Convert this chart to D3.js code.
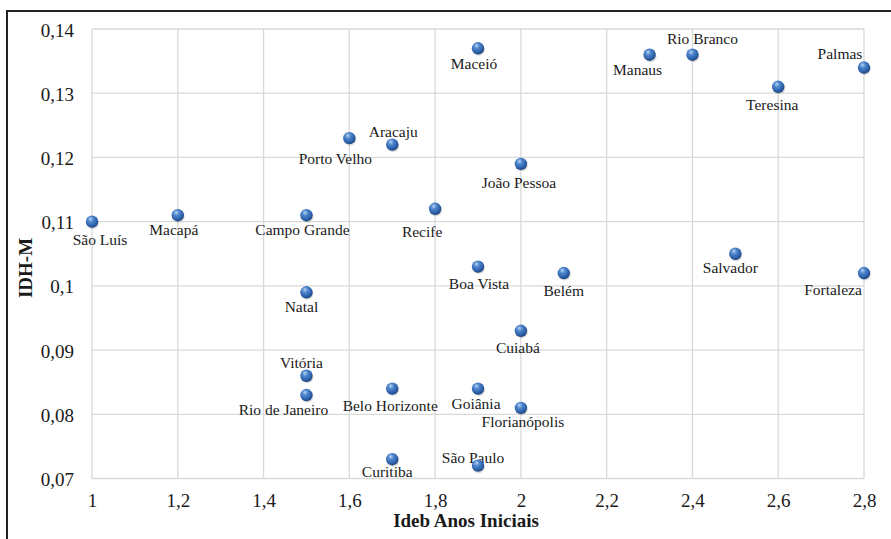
<!DOCTYPE html>
<html>
<head>
<meta charset="utf-8">
<script src="https://cdn.jsdelivr.net/npm/d3@7"></script>
<style>
  html, body { margin: 0; padding: 0; background: #fff; }
  svg { display: block; }
  text { font-family: "Liberation Serif", "Times New Roman", serif; fill: #1a1a1a; }
</style>
</head>
<body>
<svg id="chart" width="891" height="539" font-family="Liberation Serif"></svg>
<script>
// ---- Data ----
const cities = ["São Luís","Macapá","Campo Grande","Natal","Vitória","Rio de Janeiro","Belo Horizonte","Curitiba","São Paulo","Goiânia","Florianópolis","Cuiabá","Boa Vista","Belém","Recife","Porto Velho","Aracaju","Maceió","João Pessoa","Manaus","Rio Branco","Teresina","Palmas","Salvador","Fortaleza"];
const ideb = [1.0,1.2,1.5,1.5,1.5,1.5,1.7,1.7,1.9,1.9,2.0,2.0,1.9,2.1,1.8,1.6,1.7,1.9,2.0,2.3,2.4,2.6,2.8,2.5,2.8];
const idhm = [0.110,0.111,0.111,0.099,0.086,0.083,0.084,0.073,0.072,0.084,0.081,0.093,0.103,0.102,0.112,0.123,0.122,0.137,0.119,0.136,0.136,0.131,0.134,0.105,0.102];
const xTicks = [1,1.2,1.4,1.6,1.8,2,2.2,2.4,2.6,2.8];
const yTicks = [0.07,0.08,0.09,0.10,0.11,0.12,0.13,0.14];
const xTitle = "Ideb Anos Iniciais";
const yTitle = "IDH-M";

// ---- Label placement (style: offset of label centre/baseline from its point) ----
const labelOffset = {
  "São Luís":[8,23], "Macapá":[-4,20], "Campo Grande":[-4,20], "Natal":[-5,20],
  "Vitória":[-5,-8], "Rio de Janeiro":[-23,20], "Belo Horizonte":[-2,22], "Curitiba":[-5,18],
  "São Paulo":[-5,-3], "Goiânia":[-2,20], "Florianópolis":[2,19], "Cuiabá":[-3,22],
  "Boa Vista":[1,22], "Belém":[0,23], "Recife":[-13,28], "Porto Velho":[-14,26],
  "Aracaju":[1,-8], "Maceió":[-4,21], "João Pessoa":[-2,24], "Manaus":[-12,20],
  "Rio Branco":[10,-11], "Teresina":[-6,23], "Palmas":[-24,-9], "Salvador":[-5,19],
  "Fortaleza":[-31,22]
};

const svg = d3.select("#chart");
const W = 891, H = 539;
const mLeft = 92, mRight = 864, mTop = 29, mBottom = 478.5;
const FONT = "Liberation Serif";

const x = d3.scaleLinear().domain([1, 2.8]).range([mLeft, mRight]);
const y = d3.scaleLinear().domain([0.07, 0.14]).range([mBottom, mTop]);

// frame (top and left edges)
svg.append("path")
  .attr("d", `M7,${H} L7,11 L${W},11`)
  .attr("fill", "none").attr("stroke", "#222").attr("stroke-width", 2);

// gradient for sphere markers
const defs = svg.append("defs");
const g = defs.append("radialGradient").attr("id", "ball")
  .attr("cx", "0.4").attr("cy", "0.35").attr("r", "0.65").attr("fx", "0.38").attr("fy", "0.28");
g.append("stop").attr("offset", "0").attr("stop-color", "#b8d4f5");
g.append("stop").attr("offset", "0.35").attr("stop-color", "#4f86cc");
g.append("stop").attr("offset", "0.8").attr("stop-color", "#2b5ea8");
g.append("stop").attr("offset", "1").attr("stop-color", "#1c427e");

// gridlines
const grid = svg.append("g").attr("stroke", "#d9d9d9").attr("stroke-width", 1.3);
grid.selectAll(".gx").data(xTicks).join("line")
  .attr("x1", d => x(d)).attr("x2", d => x(d)).attr("y1", mTop).attr("y2", mBottom);
grid.selectAll(".gy").data(yTicks).join("line")
  .attr("y1", d => y(d)).attr("y2", d => y(d)).attr("x1", mLeft).attr("x2", mRight);

// axes (d3 axes, domain/ticks hidden)
const fmt = d => String(+d.toFixed(2)).replace(".", ",");
const xAxis = svg.append("g").attr("transform", `translate(0,${mBottom})`)
  .call(d3.axisBottom(x).tickValues(xTicks).tickSize(0).tickPadding(0).tickFormat(fmt));
xAxis.attr("font-family", FONT).attr("font-size", 19);
xAxis.select(".domain").remove();
xAxis.selectAll("text").attr("y", 28.5).attr("dy", 0)
  .style("font-size", "19px").style("font-family", FONT).attr("fill", "#1a1a1a");

const yAxis = svg.append("g").attr("transform", `translate(${mLeft},0)`)
  .call(d3.axisLeft(y).tickValues(yTicks).tickSize(0).tickPadding(0).tickFormat(fmt));
yAxis.attr("font-family", FONT).attr("font-size", 19);
yAxis.select(".domain").remove();
yAxis.selectAll("text").attr("x", -18).attr("dy", 7)
  .style("font-size", "19px").style("font-family", FONT).attr("fill", "#1a1a1a");

// axis titles
svg.append("text").attr("x", 466).attr("y", 527).attr("text-anchor", "middle")
  .style("font-family", FONT).style("font-size", "19px").style("font-weight", "bold").text(xTitle);
svg.append("text").attr("transform", "translate(32,268) rotate(-90)").attr("text-anchor", "middle")
  .style("font-family", FONT).style("font-size", "19px").style("font-weight", "bold").text(yTitle);

const data = cities.map((c, i) => ({ c, x: ideb[i], y: idhm[i] }));

// labels
svg.append("g").selectAll("text").data(data).join("text")
  .attr("x", d => x(d.x) + labelOffset[d.c][0])
  .attr("y", d => y(d.y) + labelOffset[d.c][1])
  .attr("text-anchor", "middle")
  .style("font-family", FONT)
  .style("font-size", "15.5px")
  .text(d => d.c);

// points (drawn after labels so São Paulo's ball overlaps its label)
const pts = svg.append("g");
pts.selectAll("ellipse.sh").data(data).join("ellipse").attr("class", "sh")
  .attr("cx", d => x(d.x) + 0.8).attr("cy", d => y(d.y) + 1.5)
  .attr("rx", 6.2).attr("ry", 6).attr("fill", "rgba(0,0,0,0.15)");
pts.selectAll("circle").data(data).join("circle")
  .attr("cx", d => x(d.x)).attr("cy", d => y(d.y)).attr("r", 6.2)
  .attr("fill", "url(#ball)");
</script>
</body>
</html>
